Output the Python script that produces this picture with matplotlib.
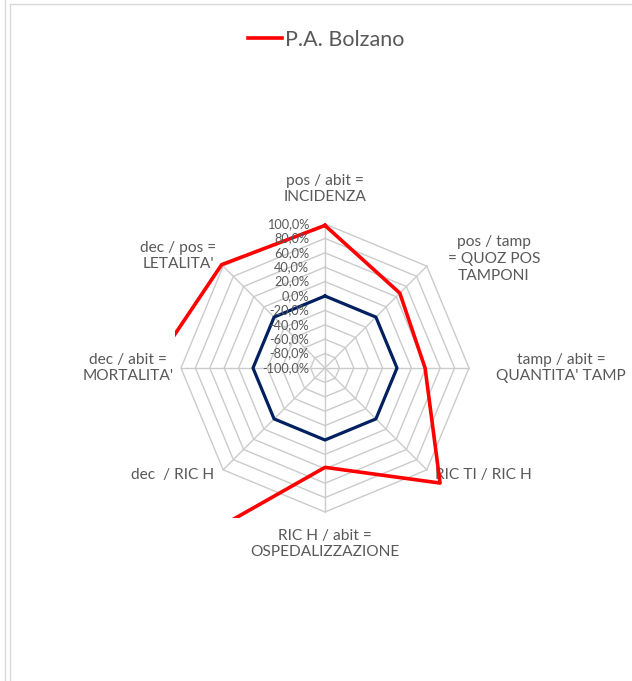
import numpy as np
import matplotlib
matplotlib.use('Agg')
import matplotlib.pyplot as plt
from matplotlib.lines import Line2D

plt.rcParams['font.family'] = ['Lato', 'DejaVu Sans']

# categories (clockwise from top)
categories = ['pos / abit =\nINCIDENZA',
              'pos / tamp\n= QUOZ POS\nTAMPONI',
              "tamp / abit =\nQUANTITA' TAMP",
              'RIC TI / RIC H',
              'RIC H / abit =\nOSPEDALIZZAZIONE',
              'dec  / RIC H',
              "dec / abit =\nMORTALITA'",
              "dec / pos =\nLETALITA'"]

# values in percent
bolzano = [98, 47, 39, 126, 38, 350, 140, 103]
reference = [0, 0, 0, 0, 0, 0, 0, 0]

tick_values = [-100, -80, -60, -40, -20, 0, 20, 40, 60, 80, 100]
tick_labels = ['-100,0%', '-80,0%', '-60,0%', '-40,0%', '-20,0%', '0,0%',
               '20,0%', '40,0%', '60,0%', '80,0%', '100,0%']

rmin = -100
px = 0.72  # pixels per percent unit
grey_txt = '#595959'
grid_col = '#CBCBCB'

n = len(categories)
theta = np.pi / 2 - np.arange(n) * 2 * np.pi / n


def to_xy(vals):
    r = np.array(vals, dtype=float) - rmin
    r = np.append(r, r[0])
    t = np.append(theta, theta[0])
    return r * np.cos(t), r * np.sin(t)


fig = plt.figure(figsize=(6.32, 6.81), dpi=100)
# plot area 300x300 px centred at (325, 368)
ax = fig.add_axes([175 / 632, 1 - 518 / 681, 300 / 632, 300 / 681])
lim = 150 / px
ax.set_xlim(-lim, lim)
ax.set_ylim(-lim, lim)
ax.set_aspect('equal')
ax.axis('off')

# grid rings
for v in tick_values[1:]:
    gx, gy = to_xy([v] * n)
    ax.plot(gx, gy, color=grid_col, lw=1, clip_on=False, zorder=1)
# spokes
rmax = tick_values[-1] - rmin
for t in theta:
    ax.plot([0, rmax * np.cos(t)], [0, rmax * np.sin(t)], color=grid_col, lw=1,
            clip_on=False, zorder=1)

# series
x0, y0 = to_xy(reference)
ax.plot(x0, y0, color='#002060', lw=2.3, zorder=3)
x1, y1 = to_xy(bolzano)
red_line, = ax.plot(x1, y1, color='#FF0000', lw=2.6, zorder=4, label='P.A. Bolzano')

# tick labels
for v, lab in zip(tick_values, tick_labels):
    ax.text(-22, v - rmin, lab, ha='right', va='center', fontsize=9.2,
            color=grey_txt, clip_on=False, zorder=5)

# category labels (pixel centres relative to chart centre)
label_px = [(325, 189), (494, 259), (561, 368), (483, 475),
            (325, 544), (173, 475), (128, 368), (178, 256)]
for lab, (lx, ly) in zip(categories, label_px):
    ax.text((lx - 325) / px, (368 - ly) / px, lab, ha='center', va='center',
            fontsize=11.2, color=grey_txt, linespacing=1.25, clip_on=False)

leg = fig.legend(handles=[red_line], loc='center',
                 bbox_to_anchor=(326 / 632, 1 - 40 / 681), frameon=False,
                 fontsize=15.5, handlelength=1.6, handletextpad=0.1)
for t in leg.get_texts():
    t.set_color(grey_txt)

# outer frame lines
fig.add_artist(Line2D([5 / 632, 5 / 632], [0, 1], color='#D9D9D9', lw=1))
fig.add_artist(Line2D([9.5 / 632, 9.5 / 632], [0, 1 - 4 / 681], color='#D9D9D9', lw=1))
fig.add_artist(Line2D([9.5 / 632, 1], [1 - 4 / 681, 1 - 4 / 681], color='#D9D9D9', lw=1))

fig.savefig('out.png', dpi=100)
